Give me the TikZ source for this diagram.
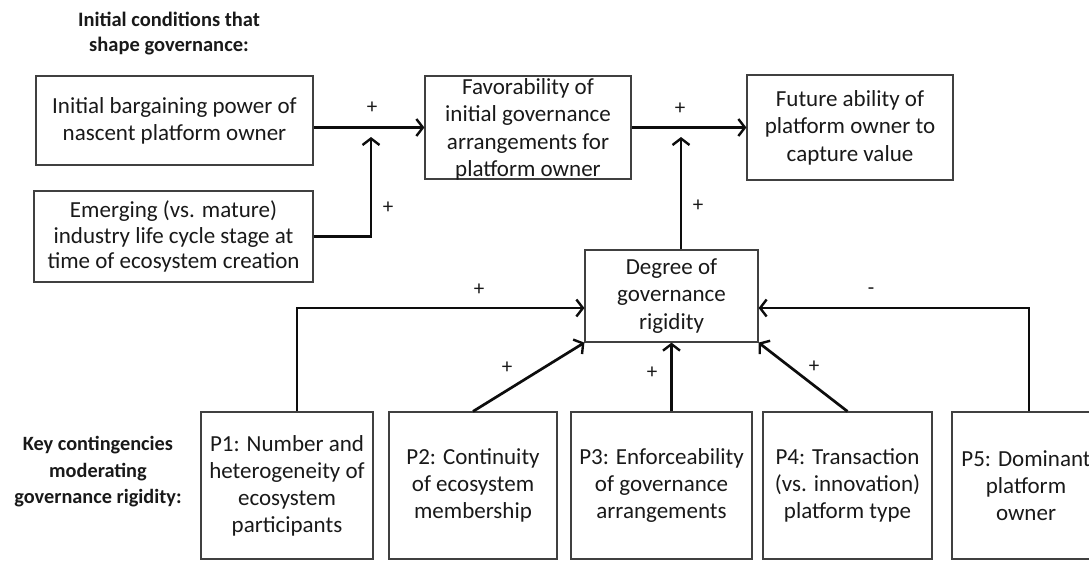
\documentclass[tikz,border=0pt]{standalone}
\usepackage{fontspec}
\setmainfont{Carlito}
\usetikzlibrary{arrows.meta,calc}
\begin{document}
\begin{tikzpicture}[x=1pt,y=-1pt,
  box/.style={draw=black!75, line width=1.2pt, align=center, inner sep=0pt,
    text=black!90, font=\fontsize{23}{27}\selectfont},
  flow/.style={line width=2.7pt, draw=black!95,
    -{Straight Barb[length=6.5pt,width=17pt,line width=2.4pt]}},
  sign/.style={font=\fontsize{21}{24}\selectfont, text=black!90},
  heading/.style={align=center, text=black!90, font=\bfseries\fontsize{20.5}{25}\selectfont}]
\useasboundingbox (0,0) rectangle (1089,560);
\clip (0,0) rectangle (1089,560);

% headings
\node[heading] (h1) at (169,34) {Initial conditions that\\shape governance:};
\node[heading, font=\bfseries\fontsize{20.3}{26.5}\selectfont] (h2) at (98,472) {Key contingencies\\moderating\\governance rigidity:};

% upper chain
\node[box, minimum width=277pt, minimum height=89pt] (a) at (174.5,120.5)
  {Initial bargaining power of\\nascent platform owner};
\node[box, minimum width=279pt, minimum height=91pt, font=\fontsize{23}{25.5}\selectfont] (b) at (173.5,236.5)
  {Emerging (vs. mature)\\industry life cycle stage at\\time of ecosystem creation};
\node[box, minimum width=206pt, minimum height=103pt, inner ysep=-3pt, text depth=0pt,
  font=\fontsize{23}{27.5}\selectfont] (fav) at (528,127.5)
  {Favorability of\\initial governance\\arrangements for\\platform owner};
\node[box, minimum width=206pt, minimum height=105pt, font=\fontsize{23}{27.5}\selectfont] (future) at (850,127.5)
  {Future ability of\\platform owner to\\capture value};
\node[box, minimum width=173pt, minimum height=92pt, font=\fontsize{23}{27.5}\selectfont] (deg) at (671.5,296)
  {Degree of\\governance\\rigidity};

% contingencies
\node[box, minimum width=172pt, minimum height=147pt] (p1) at (287,485.5)
  {P1: Number and\\heterogeneity of\\ecosystem\\participants};
\node[box, minimum width=168pt, minimum height=147pt] (p2) at (473,485.5)
  {P2: Continuity\\of ecosystem\\membership};
\node[box, minimum width=181pt, minimum height=147pt] (p3) at (661.5,485.5)
  {P3: Enforceability\\of governance\\arrangements};
\node[box, minimum width=169pt, minimum height=147pt] (p4) at (847.5,485.5)
  {P4: Transaction\\(vs. innovation)\\platform type};
\node[box, minimum width=148pt, minimum height=147pt] (p5) at (1026,485.5)
  {P5: Dominant\\platform\\owner};

% connectors
\coordinate (t1) at (371,137);
\coordinate (t2) at (681,137);
\draw[flow] (a.east |- fav.west) -- (fav.west);
\draw[flow] (b.east) -| (t1);
\draw[flow] (fav.east) -- (future.west);
\draw[flow] (deg.north -| t2) -- (t2);
\draw[flow] ($(p1.north)+(10,0)$) |- ($(deg.west)+(0,12)$);
\draw[flow] (p2.north) -- (deg.south west);
\draw[flow] (p3.north -| deg.south) -- (deg.south);
\draw[flow] (p4.north) -- (deg.south east);
\draw[flow] ($(p5.north)+(3,0)$) |- ($(deg.east)+(0,12)$);

% signs
\node[sign] (s1) at (372,108) {+};
\node[sign] (s2) at (388,208) {+};
\node[sign] (s3) at (680,109) {+};
\node[sign] (s4) at (698,206) {+};
\node[sign] (s5) at (479,290) {+};
\node[sign] (s6) at (507,368) {+};
\node[sign] (s7) at (652,373) {+};
\node[sign] (s8) at (814,367) {+};
\node[sign] (s9) at (871,291) {-};
\end{tikzpicture}
\end{document}
